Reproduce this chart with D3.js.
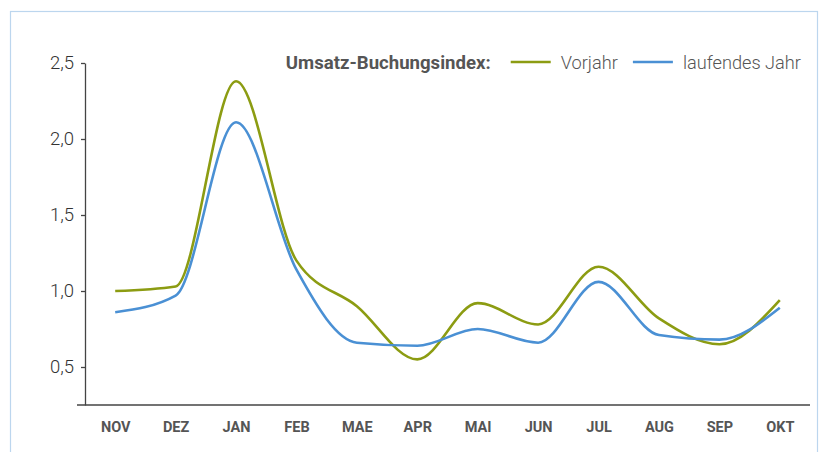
<!DOCTYPE html>
<html>
<head>
<meta charset="utf-8">
<script src="https://cdn.jsdelivr.net/npm/d3@7/dist/d3.min.js"></script>
<style>
  body { margin: 0; background: #fff; }
  svg { display: block; font-family: Roboto, "Noto Sans", sans-serif; }
</style>
</head>
<body>
<div class="chart"></div>
<script>
var svgWidth = 820;
var svgHeight = 452;

var margin = { top: 63, right: 10, bottom: 47, left: 85 };

// data
var months = ["NOV", "DEZ", "JAN", "FEB", "MAE", "APR", "MAI", "JUN", "JUL", "AUG", "SEP", "OKT"];
var vorjahr = [1.00, 1.03, 2.38, 1.20, 0.90, 0.55, 0.92, 0.78, 1.16, 0.82, 0.65, 0.94];
var laufendesJahr = [0.86, 0.97, 2.11, 1.14, 0.66, 0.64, 0.75, 0.66, 1.06, 0.71, 0.68, 0.89];
var yTicks = [0.5, 1.0, 1.5, 2.0, 2.5];

var series = [
  { name: "Vorjahr", values: vorjahr, color: "#8c9c12" },
  { name: "laufendes Jahr", values: laufendesJahr, color: "#4a90d4" }
];

var width = svgWidth - margin.left - margin.right;
var height = svgHeight - margin.top - margin.bottom;

var svg = d3.select(".chart")
  .append("svg")
  .attr("width", svgWidth)
  .attr("height", svgHeight);

// light blue frame
svg.append("rect")
  .attr("x", 10.5)
  .attr("y", 11.5)
  .attr("width", 807)
  .attr("height", 460)
  .attr("fill", "none")
  .attr("stroke", "#bcd6ee")
  .attr("stroke-width", 1.2);

var g = svg.append("g")
  .attr("transform", `translate(${margin.left}, ${margin.top})`);

var x = d3.scalePoint()
  .domain(months)
  .range([0, width])
  .padding(0.5);

var y = d3.scaleLinear()
  .domain([0.25, 2.5])
  .range([height, 0]);

var de = d3.formatLocale({ decimal: ",", thousands: ".", grouping: [3], currency: ["", " €"] });

// y axis
var yAxis = g.append("g")
  .call(d3.axisLeft(y).tickValues(yTicks).tickFormat(de.format(".1f")).tickSize(4).tickSizeOuter(0).tickPadding(7));
yAxis.select(".domain").attr("stroke", "#444").attr("stroke-width", 1.3);
yAxis.selectAll(".tick line").attr("stroke", "#444").attr("stroke-width", 1.3);
yAxis.selectAll(".tick text")
  .attr("font-size", 18.5)
  .attr("font-weight", 300)
  .attr("fill", "#333")
  .attr("font-family", "Roboto, sans-serif");

// x axis
var xAxis = g.append("g")
  .attr("transform", `translate(0, ${height})`)
  .call(d3.axisBottom(x).tickSize(0).tickSizeOuter(0).tickPadding(17));
xAxis.select(".domain")
  .attr("d", `M-8,0H${width}`)
  .attr("stroke", "#444")
  .attr("stroke-width", 1.3);
xAxis.selectAll(".tick text")
  .attr("font-size", 14.5)
  .attr("font-weight", 700)
  .attr("fill", "#555")
  .attr("font-family", "Roboto, sans-serif");

// lines
var line = d3.line()
  .x(function(d, i) { return x(months[i]); })
  .y(function(d) { return y(d); })
  .curve(d3.curveMonotoneX);

g.selectAll(".series")
  .data(series)
  .enter()
  .append("path")
  .attr("class", "series")
  .attr("d", function(d) { return line(d.values); })
  .attr("fill", "none")
  .attr("stroke", function(d) { return d.color; })
  .attr("stroke-width", 2.6)
  .attr("stroke-linejoin", "round");

// legend, laid out right to left
var legend = svg.append("g").attr("font-family", "Roboto, sans-serif");
var legendY = 69;
var cursor = 801;

for (var i = series.length - 1; i >= 0; i--) {
  var t = legend.append("text")
    .text(series[i].name)
    .attr("x", cursor)
    .attr("y", legendY)
    .attr("text-anchor", "end")
    .attr("font-size", 18.2)
    .attr("font-weight", 300)
    .attr("fill", "#555");
  var w = t.node().getComputedTextLength();
  cursor = cursor - w - 10;
  legend.append("line")
    .attr("x1", cursor - 40)
    .attr("x2", cursor)
    .attr("y1", legendY - 7)
    .attr("y2", legendY - 7)
    .attr("stroke", series[i].color)
    .attr("stroke-width", 2.6);
  cursor = cursor - 40 - 15;
}

legend.append("text")
  .text("Umsatz-Buchungsindex:")
  .attr("x", cursor - 5)
  .attr("y", legendY)
  .attr("text-anchor", "end")
  .attr("font-size", 18.6)
  .attr("font-weight", 700)
  .attr("fill", "#555");
</script>
</body>
</html>
